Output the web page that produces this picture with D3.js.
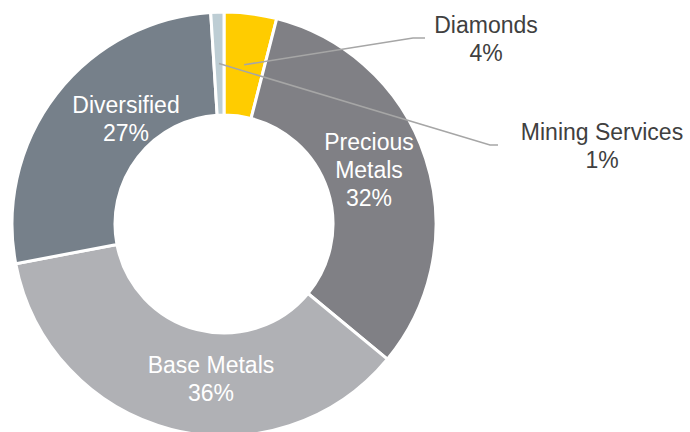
<!DOCTYPE html>
<html>
<head>
<meta charset="utf-8">
<script src="https://cdn.jsdelivr.net/npm/d3@7"></script>
<style>
  html, body { margin: 0; padding: 0; background: #ffffff; }
  svg { display: block; }
  text { font-family: "Liberation Sans", Arial, sans-serif; }
</style>
</head>
<body>
<svg id="chart" width="690" height="432"></svg>
<script>
// Sector split of the portfolio (percent)
const categories = ["Diamonds", "Precious Metals", "Base Metals", "Diversified", "Mining Services"];
const shares = [4, 32, 36, 27, 1];
const nameLines = [["Diamonds"], ["Precious", "Metals"], ["Base Metals"], ["Diversified"], ["Mining Services"]];
const sliceColors = ["#FFCC00", "#808085", "#B0B1B5", "#76808A", "#BDCDD4"];

// Layout
const W = 690, H = 432;
const cx = 224, cy = 224;
const outerR = 212, innerR = 109;
const fontSize = 23, lineH = 28;

// Labels drawn inside their slice: x of the label centre and baseline of its first line,
// both relative to the donut centre
const insideLabels = {
  "Precious Metals": [145, -74],
  "Base Metals": [-13, 149],
  "Diversified": [-98, -111]
};
// Labels drawn outside with a leader line: elbow, end of the horizontal run, text anchor
const outsideLabels = {
  "Diamonds": { elbow: [413, 38], end: [425, 38], text: [486, 33] },
  "Mining Services": { elbow: [490, 145], end: [498, 145], text: [602, 140] }
};

const svg = d3.select("#chart");
const g = svg.append("g").attr("transform", `translate(${cx},${cy})`);

const data = categories.map((c, i) => ({ name: c, value: shares[i], lines: nameLines[i], color: sliceColors[i] }));

const pie = d3.pie().sort(null).value(d => d.value).startAngle(0).endAngle(2 * Math.PI);
const arc = d3.arc().innerRadius(innerR).outerRadius(outerR);
const arcs = pie(data);

g.selectAll("path.slice")
  .data(arcs)
  .join("path")
  .attr("class", "slice")
  .attr("d", arc)
  .attr("fill", d => d.data.color)
  .attr("stroke", "#ffffff")
  .attr("stroke-width", 3)
  .attr("stroke-linejoin", "round");

// Inside labels
arcs.filter(d => insideLabels[d.data.name]).forEach(d => {
  const [ox, oy] = insideLabels[d.data.name];
  const lines = d.data.lines.concat([d.data.value + "%"]);
  const t = g.append("text")
    .attr("text-anchor", "middle")
    .attr("fill", "#ffffff")
    .attr("font-size", fontSize);
  lines.forEach((ln, i) => {
    t.append("tspan").attr("x", ox).attr("y", oy + i * lineH).text(ln);
  });
});

// Outside labels with leader lines
arcs.filter(d => outsideLabels[d.data.name]).forEach(d => {
  const spec = outsideLabels[d.data.name];
  const [sx, sy] = arc.centroid(d);
  const pts = [[sx + cx, sy + cy], spec.elbow, spec.end];
  svg.append("path")
    .attr("d", d3.line()(pts))
    .attr("fill", "none")
    .attr("stroke", "#A6A6A6")
    .attr("stroke-width", 1.5);
  const lines = d.data.lines.concat([d.data.value + "%"]);
  const t = svg.append("text")
    .attr("text-anchor", "middle")
    .attr("fill", "#404040")
    .attr("font-size", fontSize);
  lines.forEach((ln, i) => {
    t.append("tspan").attr("x", spec.text[0]).attr("y", spec.text[1] + i * lineH).text(ln);
  });
});
</script>
</body>
</html>
